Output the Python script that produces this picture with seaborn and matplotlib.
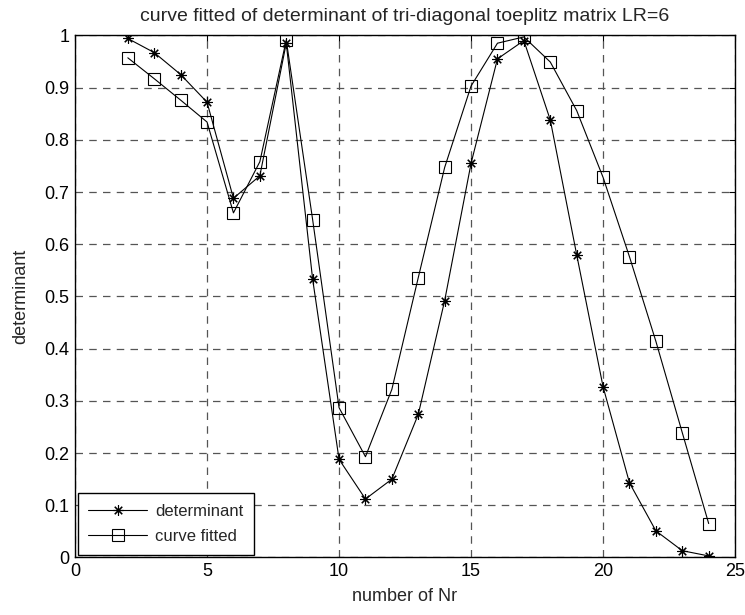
import matplotlib
matplotlib.use("Agg")
import matplotlib.pyplot as plt
import seaborn as sns
import pandas as pd

nr = [2, 3, 4, 5, 6, 7, 8, 9, 10, 11, 12, 13, 14, 15, 16, 17, 18, 19, 20, 21, 22, 23, 24]
determinant = [0.994, 0.967, 0.925, 0.872, 0.688, 0.731, 0.985, 0.533, 0.188, 0.112, 0.150,
               0.274, 0.492, 0.755, 0.955, 0.990, 0.838, 0.580, 0.327, 0.143, 0.051, 0.013, 0.003]
curve_fitted = [0.957, 0.917, 0.876, 0.834, 0.660, 0.758, 0.991, 0.647, 0.287, 0.193, 0.322,
                0.536, 0.747, 0.903, 0.985, 0.997, 0.949, 0.856, 0.728, 0.576, 0.414, 0.239, 0.065]
x_ticks = [0, 5, 10, 15, 20, 25]
y_ticks = [0, 0.1, 0.2, 0.3, 0.4, 0.5, 0.6, 0.7, 0.8, 0.9, 1.0]
y_tick_labels = ["0", "0.1", "0.2", "0.3", "0.4", "0.5", "0.6", "0.7", "0.8", "0.9", "1"]

sns.set_style("white")
plt.rcParams["font.family"] = ["Liberation Sans", "DejaVu Sans"]

df = pd.DataFrame({"nr": nr, "determinant": determinant, "curve_fitted": curve_fitted})

fig = plt.figure(figsize=(7.45, 6.15), dpi=100)
ax = fig.add_axes([0.1007, 0.0935, 0.886, 0.849])

sns.lineplot(data=df, x="nr", y="determinant", ax=ax, color="black", linewidth=0.8,
             marker=(8, 2, 0), markersize=7.5, markeredgecolor="black", markeredgewidth=0.8,
             label="determinant")
sns.lineplot(data=df, x="nr", y="curve_fitted", ax=ax, color="black", linewidth=0.8,
             marker="s", markersize=9, markerfacecolor="none", markeredgecolor="black",
             markeredgewidth=0.8, label="curve fitted")

ax.set_xlim(0, 25)
ax.set_ylim(0, 1)
ax.set_xticks(x_ticks)
ax.set_yticks(y_ticks)
ax.set_yticklabels(y_tick_labels)
ax.tick_params(direction="in", length=4, width=0.8, top=True, right=True, labelsize=13, pad=4,
               colors="black")
ax.grid(True, linestyle=(0, (6, 5)), color="#555555", linewidth=0.9)
for s in ax.spines.values():
    s.set_visible(True)
    s.set_color("black")
    s.set_linewidth(1.0)

ax.set_xlabel("number of Nr", fontsize=13, labelpad=6)
ax.set_ylabel("determinant", fontsize=13, labelpad=11)
ax.set_title("curve fitted of determinant of tri-diagonal toeplitz matrix LR=6", fontsize=14, pad=10)

leg = ax.legend(loc="lower left", fontsize=12, frameon=True, fancybox=False, borderaxespad=0.15,
                handlelength=3.5, handletextpad=0.5, borderpad=0.65, labelspacing=0.6)
leg.get_frame().set_edgecolor("black")
leg.get_frame().set_linewidth(1.0)
leg.get_frame().set_alpha(1)

fig.savefig("out.png", dpi=100)
